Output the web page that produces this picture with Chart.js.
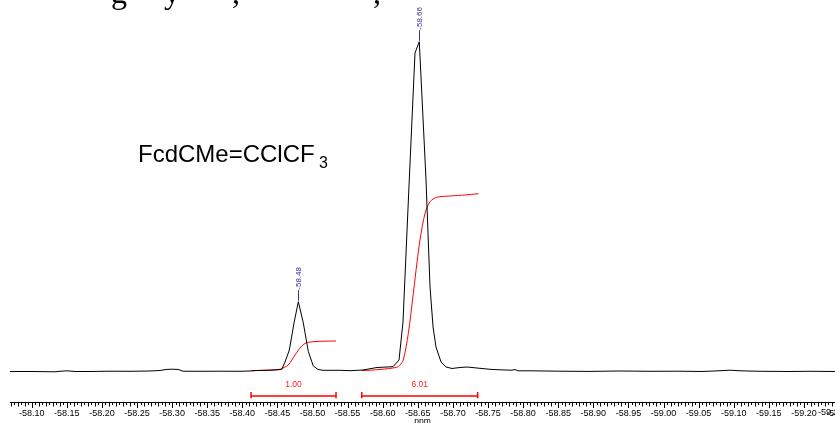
<!DOCTYPE html>
<html><head><meta charset="utf-8">
<script src="https://cdn.jsdelivr.net/npm/chart.js@4"></script>
<style>html,body{margin:0;padding:0;background:#fff;overflow:hidden}#wrap{position:relative;width:835px;height:423px}</style>
</head><body><div id="wrap"><canvas id="c" width="835" height="423"></canvas></div>
<script>
// 19F NMR spectrum, chemical shift in ppm
const spectrumPpm = [
  -58.0691, -58.0976, -58.1332, -58.1403, -58.1503, -58.1617, -58.1830, -58.2115, -58.2400, -58.2685,
  -58.2828, -58.2913, -58.2999, -58.3084, -58.3155, -58.3397, -58.3682, -58.3967, -58.4110, -58.4195,
  -58.4395, -58.4561, -58.4608, -58.4670, -58.4736, -58.4798, -58.4869, -58.4940, -58.5011, -58.5078,
  -58.5150, -58.5392, -58.5534, -58.5719, -58.5919, -58.6147, -58.6232, -58.6289, -58.6375, -58.6460,
  -58.6521, -58.6617, -58.6674, -58.6717, -58.6759, -58.6831, -58.6902, -58.6987, -58.7101, -58.7201,
  -58.7343, -58.7528, -58.7671, -58.7842, -58.7885, -58.7927, -58.8098, -58.8526, -58.8953, -58.9380,
  -58.9808, -59.0235, -59.0520, -59.0734, -59.0947, -59.1090, -59.1375, -59.1802, -59.2087, -59.2443
];
const spectrumIntensity = [
  -0.15, -0.15, -0.24, -0.09, 0.06, -0.15, -0.15, -0.06, -0.09, 0,
  0.15, 0.46, 0.55, 0.46, -0.06, -0.09, -0.06, -0.09, 0, 0.15,
  0.21, 0.46, 2.73, 6.38, 14.58, 21.04, 14.58, 5.92, 1.52, 0.46,
  0.21, 0.21, 0.09, 0.30, 1.06, 1.31, 3.34, 14.88, 56.48, 96.57,
  100, 58.0, 25.51, 13.36, 7.29, 2.73, 1.21, 0.76, 1.06, 1.21,
  0.91, 0.52, 0.36, 0.24, 0.45, 0.05, 0.06, -0.06, -0.12, 0,
  -0.09, -0.06, -0.15, 0, 0.25, 0.06, -0.09, -0.15, -0.09, -0.15
];
// integral curves
const integral1Ppm = [-58.4124, -58.4395, -58.4537, -58.4594, -58.4655, -58.4751, -58.4846, -58.4907, -58.4964, -58.5107, -58.5335];
const integral1Value = [0.09, 0.30, 0.52, 1.06, 1.82, 4.86, 7.59, 8.50, 8.81, 9.02, 9.11];
const integral2Ppm = [-58.5701, -58.5962, -58.6199, -58.6246, -58.6293, -58.6365, -58.6436, -58.6489, -58.6531, -58.6603, -58.6674, -58.6769, -58.6959, -58.7172, -58.7362];
const integral2Value = [0.09, 0.46, 1.12, 1.82, 3.34, 11.45, 23.60, 33.10, 39.78, 47.89, 51.41, 52.75, 53.14, 53.45, 53.84];
const integralRanges = [[-58.4124, -58.5335], [-58.5701, -58.7353]];
const integralLabels = ['1.00', '6.01'];
// peak picking
const peakPpm = [-58.4798, -58.6521];
const peakLabels = ['-58.48', '-58.66'];
// axis
const tickValues = [-58.10, -58.15, -58.20, -58.25, -58.30, -58.35, -58.40, -58.45, -58.50, -58.55, -58.60, -58.65, -58.70, -58.75, -58.80, -58.85, -58.90, -58.95, -59.00, -59.05, -59.10, -59.15, -59.20, -59.25];
const tickLabels = ['-58.10', '-58.15', '-58.20', '-58.25', '-58.30', '-58.35', '-58.40', '-58.45', '-58.50', '-58.55', '-58.60', '-58.65', '-58.70', '-58.75', '-58.80', '-58.85', '-58.90', '-58.95', '-59.00', '-59.05', '-59.10', '-59.15', '-59.20', '-59.25'];
const axisTitle = 'ppm';
const compoundMain = 'FcdCMe=CClCF';
const compoundSub = '3';

const toXY = (xs, ys) => xs.map((v, i) => ({x: v, y: ys[i]}));
const tickFont = '9px "Liberation Sans", Arial, sans-serif';

const decor = {
  id: 'decor',
  afterDatasetsDraw(chart) {
    const {ctx, chartArea: ca, scales: {x, y}} = chart;
    const axY = ca.bottom;
    ctx.save();
    // axis line and ticks
    const xStart = x.getPixelForValue(spectrumPpm[0]);
    ctx.strokeStyle = '#000';
    ctx.lineWidth = 1;
    ctx.beginPath();
    ctx.moveTo(xStart, Math.round(axY) + 0.5);
    ctx.lineTo(chart.width, Math.round(axY) + 0.5);
    ctx.stroke();
    for (let k = 11614; k <= 11850; k++) {
      const px = x.getPixelForValue(-k / 200);
      if (px < xStart - 0.5 || px > chart.width + 1) continue;
      const len = k % 10 === 0 ? 5.5 : (k % 2 === 0 ? 4 : 2.5);
      const xx = Math.round(px) + 0.5;
      ctx.beginPath();
      ctx.moveTo(xx, Math.round(axY) + 0.5);
      ctx.lineTo(xx, Math.round(axY) + 0.5 + len);
      ctx.stroke();
    }
    // overflowing last tick label, pulled inward like the original software does
    ctx.fillStyle = '#000';
    ctx.font = tickFont;
    ctx.textAlign = 'center';
    ctx.textBaseline = 'middle';
    tickValues.forEach((v, i) => {
      const px = x.getPixelForValue(v);
      const w = ctx.measureText(tickLabels[i]).width;
      if (px + w / 2 > chart.width) ctx.fillText(tickLabels[i], Math.min(px, chart.width - w / 2 + 8.5), axY + 10.8);
    });
    // axis title
    ctx.font = '8.5px "Liberation Sans", Arial, sans-serif';
    ctx.textBaseline = 'alphabetic';
    ctx.fillText(axisTitle, (xStart + chart.width) / 2, 423.5);
    // integral brackets
    ctx.strokeStyle = '#ff0000';
    ctx.fillStyle = '#ff2020';
    ctx.lineWidth = 1.5;
    integralRanges.forEach((r, i) => {
      const a = x.getPixelForValue(r[0]);
      const b = x.getPixelForValue(r[1]);
      const by = axY - 5.7;
      ctx.beginPath();
      ctx.moveTo(a, by); ctx.lineTo(b, by);
      ctx.moveTo(a, axY - 9.6); ctx.lineTo(a, axY - 3.4);
      ctx.moveTo(b, axY - 9.6); ctx.lineTo(b, axY - 3.4);
      ctx.stroke();
      ctx.font = '8.5px "Liberation Sans", Arial, sans-serif';
      ctx.textAlign = 'center';
      ctx.textBaseline = 'middle';
      ctx.fillText(integralLabels[i], (a + b) / 2, axY - 17.5);
    });
    // peak labels
    ctx.strokeStyle = '#333399';
    ctx.fillStyle = '#333399';
    ctx.lineWidth = 1;
    peakPpm.forEach((p, i) => {
      let best = 0;
      spectrumPpm.forEach((v, j) => { if (Math.abs(v - p) < Math.abs(spectrumPpm[best] - p)) best = j; });
      const px = x.getPixelForValue(spectrumPpm[best]);
      const py = y.getPixelForValue(spectrumIntensity[best]);
      ctx.beginPath();
      ctx.moveTo(Math.round(px) + 0.5, py - 1);
      ctx.lineTo(Math.round(px) + 0.5, py - 11.5);
      ctx.stroke();
      ctx.save();
      ctx.translate(px + 0.5, py - 12);
      ctx.rotate(-Math.PI / 2);
      ctx.font = '8px "Liberation Sans", Arial, sans-serif';
      ctx.textAlign = 'left';
      ctx.textBaseline = 'middle';
      ctx.fillText(peakLabels[i], 0, 0);
      ctx.restore();
    });
    // compound name
    ctx.fillStyle = '#000';
    ctx.textAlign = 'left';
    ctx.textBaseline = 'alphabetic';
    ctx.font = '24px "Liberation Sans", Arial, sans-serif';
    ctx.fillText(compoundMain, 138, 161.7);
    ctx.font = '16px "Liberation Sans", Arial, sans-serif';
    ctx.fillText(compoundSub, 319, 168.3);
    // cut-off caption line above the plot
    ctx.font = '32px "Liberation Serif", "Times New Roman", serif';
    ctx.fillText('g', 111, 3);
    ctx.fillText('y', 164, 3);
    ctx.fillText(',', 232, 3);
    ctx.fillText(',', 373, 3);
    ctx.restore();
  }
};

new Chart(document.getElementById('c'), {
  type: 'line',
  data: {
    datasets: [
      {data: toXY(spectrumPpm, spectrumIntensity), borderColor: '#000', borderWidth: 1, pointRadius: 0, tension: 0, fill: false},
      {data: toXY(integral1Ppm, integral1Value), borderColor: '#ff0000', borderWidth: 1, pointRadius: 0, tension: 0.3, fill: false},
      {data: toXY(integral2Ppm, integral2Value), borderColor: '#ff0000', borderWidth: 1, pointRadius: 0, tension: 0.3, fill: false}
    ]
  },
  options: {
    responsive: false,
    animation: false,
    devicePixelRatio: 1,
    layout: {padding: 0},
    plugins: {legend: {display: false}, tooltip: {enabled: false}, title: {display: false}},
    scales: {
      x: {
        type: 'linear',
        reverse: true,
        min: -59.2443,
        max: -58.0548,
        afterBuildTicks: (scale) => { scale.ticks = tickValues.map(v => ({value: v})); },
        afterFit: (scale) => { scale.height = 21.3; scale.paddingLeft = 0; scale.paddingRight = 0; },
        grid: {display: true, drawOnChartArea: false, drawTicks: false},
        border: {display: false},
        ticks: {
          autoSkip: false, maxRotation: 0, minRotation: 0, padding: 6.5,
          color: '#000',
          font: {family: '"Liberation Sans", Arial, sans-serif', size: 9},
          callback: function (value) {
            const i = tickValues.findIndex(t => Math.abs(t - value) < 1e-6);
            if (i < 0) return '';
            const px = this.getPixelForValue(value);
            return px > this.chart.width - 12 ? '' : tickLabels[i];
          }
        }
      },
      y: {display: false, min: -9.323, max: 112.66}
    }
  },
  plugins: [decor]
});
</script></body></html>
